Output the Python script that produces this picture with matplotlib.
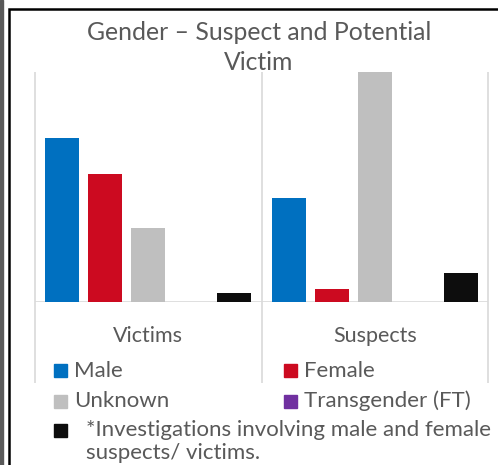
import matplotlib.pyplot as plt
from matplotlib.patches import Rectangle
import numpy as np

plt.rcParams['font.family'] = ['Lato', 'DejaVu Sans']

# data (arbitrary units)
groups = ['Victims', 'Suspects']
series = ['Male', 'Female', 'Unknown', 'Transgender (FT)',
          '*Investigations involving male and female\nsuspects/ victims.']
values = {
    'Male': [164, 104],
    'Female': [128, 13],
    'Unknown': [74, 230],
    'Transgender (FT)': [0, 0],
    'Other': [9, 29],
}
colors = ['#0070C0', '#CC0A20', '#BFBFBF', '#7030A0', '#0D0D0D']
text_col = '#595959'
grid_col = '#D9D9D9'

W, H = 498, 465
fig = plt.figure(figsize=(W / 100, H / 100), dpi=100)

def fx(px):
    return px / W

def fy(py):
    return 1 - py / H

# frame
fig.add_artist(Rectangle((0, 0), fx(3), 1, transform=fig.transFigure,
                         color='#595959', zorder=0))
fig.add_artist(Rectangle((fx(9), fy(470)), 1, fy(9) - fy(470),
                         transform=fig.transFigure, fill=False,
                         edgecolor='black', linewidth=1.8, zorder=0))

ax = fig.add_axes([fx(35), fy(302), fx(488) - fx(35), fy(72) - fy(302)])
x = np.arange(len(groups))
width = 0.15
step = 0.19
keys = list(values.keys())
for i, k in enumerate(keys):
    ax.bar(x + (i - 2) * step, values[k], width, color=colors[i], zorder=3)

ax.set_xlim(-0.5, 1.5)
ax.set_ylim(0, 230)
for s in ax.spines.values():
    s.set_visible(False)
ax.set_yticks([])
ax.set_xticks(x)
ax.set_xticklabels(groups, fontsize=15.5, color=text_col)
ax.tick_params(axis='x', length=0, pad=17)
ax.axhline(0, color=grid_col, linewidth=1.2, zorder=2)
ax.vlines([-0.5, 0.5, 1.5], -(383 - 302) / 230, 1, color=grid_col,
          linewidth=1.2, transform=ax.get_xaxis_transform(), clip_on=False)

fig.text(fx(259), fy(32), 'Gender – Suspect and Potential', ha='center',
         va='center', fontsize=17.8, color=text_col)
fig.text(fx(259), fy(62), 'Victim', ha='center', va='center',
         fontsize=17.8, color=text_col)

# legend drawn by hand
leg_pos = [(54, 371), (284, 371), (54, 401), (284, 401), (54, 430)]
for i, (lx, ly) in enumerate(leg_pos):
    fig.add_artist(Rectangle((fx(lx), fy(ly + 6.5)), fx(13), fy(ly - 6.5) - fy(ly + 6.5),
                             transform=fig.transFigure, color=colors[i]))
    tx = lx + 20 if i < 4 else lx + 32
    fig.text(fx(tx), fy(ly - 10 if i == 4 else ly), series[i], ha='left',
             va='center' if i < 4 else 'top',
             fontsize=16, color=text_col, linespacing=1.2)

fig.savefig('out.png', dpi=100)
